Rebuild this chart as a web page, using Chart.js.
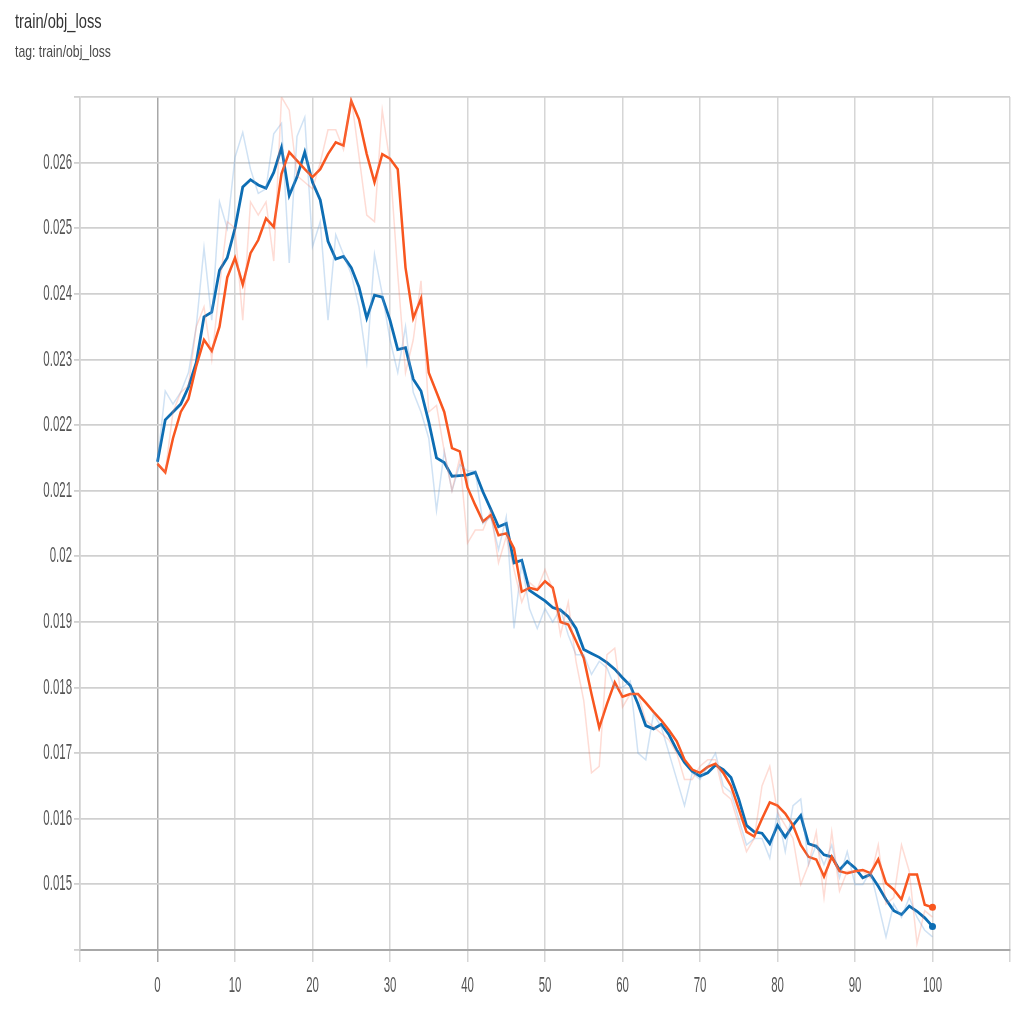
<!DOCTYPE html>
<html>
<head>
<meta charset="utf-8">
<script src="https://cdn.jsdelivr.net/npm/chart.js@4/dist/chart.umd.min.js"></script>
<style>
    body { margin: 0; background: #fff; font-family: "Liberation Sans", Arial, sans-serif; }
    #wrap { position: relative; width: 1032px; height: 1009px; overflow: hidden; }
    #chart { position: absolute; left: 0; top: 0; }
    .title { position: absolute; left: 15px; top: 9px; font-size: 21px; color: #333; transform: scaleX(0.7); transform-origin: left top; white-space: nowrap; }
    .tag { position: absolute; left: 15px; top: 42px; font-size: 17px; color: #4a4a4a; transform: scaleX(0.72); transform-origin: left top; white-space: nowrap; }
</style>
</head>
<body>
<div id="wrap">
    <canvas id="chart" width="1032" height="1009"></canvas>
    <div class="title">train/obj_loss</div>
    <div class="tag">tag: train/obj_loss</div>
</div>
<script>
const steps = Array.from({ length: 101 }, (_, i) => i);

// smoothed curves
const blueSmooth = [
    0.02144, 0.02208, 0.02220, 0.02232, 0.02258, 0.02295, 0.02365, 0.02372, 0.02436, 0.02455,
    0.02500, 0.02563, 0.02574, 0.02566, 0.02561, 0.02585, 0.02623, 0.02550, 0.02578, 0.02616,
    0.02570, 0.02543, 0.02480, 0.02453, 0.02457, 0.02440, 0.02410, 0.02363, 0.02398, 0.02395,
    0.02360, 0.02315, 0.02318, 0.02270, 0.02252, 0.02205, 0.02150, 0.02143, 0.02122, 0.02123,
    0.02124, 0.02128, 0.02098, 0.02072, 0.02045, 0.02050, 0.01990, 0.01994, 0.01948, 0.01940,
    0.01932, 0.01922, 0.01918, 0.01908, 0.01890, 0.01858, 0.01852, 0.01846, 0.01838, 0.01828,
    0.01815, 0.01803, 0.01775, 0.01742, 0.01737, 0.01744, 0.01728, 0.01705, 0.01686, 0.01672,
    0.01665, 0.01670, 0.01682, 0.01675, 0.01663, 0.01630, 0.01590, 0.01580, 0.01578, 0.01562,
    0.01590, 0.01572, 0.01590, 0.01605, 0.01562, 0.01558, 0.01545, 0.01542, 0.01522, 0.01535,
    0.01525, 0.01510, 0.01515, 0.01497, 0.01477, 0.01460, 0.01454, 0.01467, 0.01459, 0.01449,
    0.01436
];
const orangeSmooth = [
    0.02141, 0.02128, 0.02180, 0.02220, 0.02240, 0.02290, 0.02330, 0.02313, 0.02350, 0.02425,
    0.02455, 0.02414, 0.02462, 0.02482, 0.02515, 0.02502, 0.02583, 0.02616, 0.02603, 0.02590,
    0.02578, 0.02590, 0.02613, 0.02631, 0.02626, 0.02694, 0.02666, 0.02613, 0.02570, 0.02613,
    0.02606, 0.02590, 0.02440, 0.02363, 0.02393, 0.02280, 0.02250, 0.02220, 0.02165, 0.02160,
    0.02105, 0.02078, 0.02053, 0.02063, 0.02032, 0.02035, 0.02012, 0.01946, 0.01952, 0.01949,
    0.01962, 0.01952, 0.01900, 0.01896, 0.01871, 0.01845, 0.01790, 0.01739, 0.01775, 0.01808,
    0.01786, 0.01790, 0.01790, 0.01777, 0.01763, 0.01750, 0.01735, 0.01718, 0.01690, 0.01675,
    0.01670, 0.01679, 0.01684, 0.01670, 0.01650, 0.01615, 0.01580, 0.01573, 0.01600, 0.01625,
    0.01620, 0.01608, 0.01590, 0.01560, 0.01542, 0.01538, 0.01512, 0.01542, 0.01520, 0.01517,
    0.01520, 0.01522, 0.01517, 0.01538, 0.01502, 0.01492, 0.01477, 0.01515, 0.01515, 0.01469,
    0.01465
];

// faint raw curves behind
const blueRaw = [
    0.02144, 0.02252, 0.02232, 0.02250, 0.02280, 0.02350, 0.02470, 0.02360, 0.02540, 0.02500,
    0.02608, 0.02646, 0.02590, 0.02553, 0.02560, 0.02644, 0.02660, 0.02447, 0.02640, 0.02669,
    0.02472, 0.02510, 0.02360, 0.02490, 0.02460, 0.02430, 0.02380, 0.02296, 0.02460, 0.02400,
    0.02330, 0.02280, 0.02350, 0.02250, 0.02220, 0.02180, 0.02070, 0.02160, 0.02100, 0.02140,
    0.02130, 0.02130, 0.02050, 0.02060, 0.02010, 0.02060, 0.01890, 0.01990, 0.01920, 0.01890,
    0.01920, 0.01900, 0.01920, 0.01880, 0.01850, 0.01850, 0.01820, 0.01840, 0.01830, 0.01800,
    0.01800, 0.01810, 0.01700, 0.01690, 0.01760, 0.01740, 0.01700, 0.01660, 0.01620, 0.01670,
    0.01660, 0.01680, 0.01700, 0.01650, 0.01640, 0.01600, 0.01560, 0.01570, 0.01570, 0.01540,
    0.01610, 0.01550, 0.01620, 0.01630, 0.01530, 0.01560, 0.01530, 0.01560, 0.01510, 0.01550,
    0.01500, 0.01500, 0.01520, 0.01470, 0.01420, 0.01470, 0.01450, 0.01480, 0.01450, 0.01430,
    0.01420
];
const orangeRaw = [
    0.02141, 0.02128, 0.02220, 0.02250, 0.02260, 0.02350, 0.02380, 0.02300, 0.02410, 0.02510,
    0.02500, 0.02360, 0.02540, 0.02520, 0.02540, 0.02450, 0.02700, 0.02680, 0.02580, 0.02570,
    0.02560, 0.02600, 0.02650, 0.02650, 0.02620, 0.02700, 0.02610, 0.02520, 0.02510, 0.02680,
    0.02600, 0.02430, 0.02280, 0.02330, 0.02420, 0.02220, 0.02230, 0.02160, 0.02100, 0.02150,
    0.02020, 0.02040, 0.02040, 0.02070, 0.01990, 0.02030, 0.01980, 0.01930, 0.01960, 0.01950,
    0.01980, 0.01950, 0.01880, 0.01930, 0.01840, 0.01780, 0.01670, 0.01680, 0.01850, 0.01860,
    0.01770, 0.01790, 0.01790, 0.01750, 0.01740, 0.01730, 0.01720, 0.01700, 0.01660, 0.01660,
    0.01680, 0.01690, 0.01690, 0.01640, 0.01630, 0.01590, 0.01550, 0.01570, 0.01650, 0.01680,
    0.01610, 0.01590, 0.01570, 0.01500, 0.01530, 0.01580, 0.01480, 0.01580, 0.01490, 0.01520,
    0.01520, 0.01520, 0.01510, 0.01560, 0.01470, 0.01480, 0.01560, 0.01520, 0.01410, 0.01460,
    0.01450
];

const xMin = -10, xMax = 110, xStep = 10;
const yMin = 0.014, yMax = 0.027, yStep = 0.001;

const BLUE = '#0d6db3';
const ORANGE = '#f8561f';

function pts(vals) {
    return vals.map((v, i) => ({ x: steps[i], y: v }));
}

function endDot(ctx) {
    return ctx.dataIndex === steps.length - 1 ? 3.5 : 0;
}

// tick labels in the squeezed, tall look of the original
const squeezedLabels = {
    id: 'squeezedLabels',
    afterDraw(chart) {
        const ctx = chart.ctx;
        const xs = chart.scales.x, ys = chart.scales.y;
        ctx.save();
        ctx.fillStyle = '#555';
        ctx.font = '22px "Liberation Sans", Arial, sans-serif';
        ctx.textBaseline = 'middle';

        ctx.textAlign = 'center';
        xs.ticks.forEach(t => {
            const v = Math.round(t.value);
            if (v < 0 || v > 100) return;
            ctx.save();
            ctx.translate(xs.getPixelForValue(t.value), xs.top + 36);
            ctx.scale(0.52, 1);
            ctx.fillText(String(v), 0, 0);
            ctx.restore();
        });

        ctx.textAlign = 'right';
        ys.ticks.forEach(t => {
            const v = Number(t.value.toFixed(3));
            if (v <= yMin || v >= yMax) return;
            ctx.save();
            ctx.translate(ys.right - 8, ys.getPixelForValue(t.value));
            ctx.scale(0.52, 1);
            ctx.fillText(String(v), 0, 0);
            ctx.restore();
        });
        ctx.restore();
    }
};

new Chart(document.getElementById('chart').getContext('2d'), {
    type: 'line',
    data: {
        datasets: [
            { label: 'raw orange', data: pts(orangeRaw), borderColor: 'rgba(250,130,105,0.28)', borderWidth: 1.5, pointRadius: 0, tension: 0 },
            { label: 'raw blue', data: pts(blueRaw), borderColor: 'rgba(110,165,220,0.32)', borderWidth: 1.5, pointRadius: 0, tension: 0 },
            { label: 'orange', data: pts(orangeSmooth), borderColor: ORANGE, backgroundColor: ORANGE, borderWidth: 2.5, pointRadius: endDot, pointBorderWidth: 0, tension: 0 },
            { label: 'blue', data: pts(blueSmooth), borderColor: BLUE, backgroundColor: BLUE, borderWidth: 2.8, pointRadius: endDot, pointBorderWidth: 0, tension: 0 }
        ]
    },
    options: {
        responsive: false,
        animation: false,
        layout: { padding: { top: 97, right: 22, left: 0, bottom: 0 } },
        scales: {
            x: {
                type: 'linear',
                min: xMin,
                max: xMax,
                ticks: { stepSize: xStep, display: false },
                grid: {
                    color: c => (c.tick && c.tick.value === 0 ? '#a8a8a8' : '#d6d6d6'),
                    lineWidth: 1.5,
                    tickLength: 12
                },
                border: { color: '#a8a8a8', width: 2 },
                afterFit: s => { s.height = 59; }
            },
            y: {
                min: yMin,
                max: yMax,
                ticks: { stepSize: yStep, display: false },
                grid: { color: '#d0d0d0', lineWidth: 1.8, tickLength: 6 },
                border: { color: '#d0d0d0', width: 1.5 },
                afterFit: s => { s.width = 80; }
            }
        },
        plugins: {
            legend: { display: false },
            tooltip: { enabled: false }
        }
    },
    plugins: [squeezedLabels]
});
</script>
</body>
</html>
